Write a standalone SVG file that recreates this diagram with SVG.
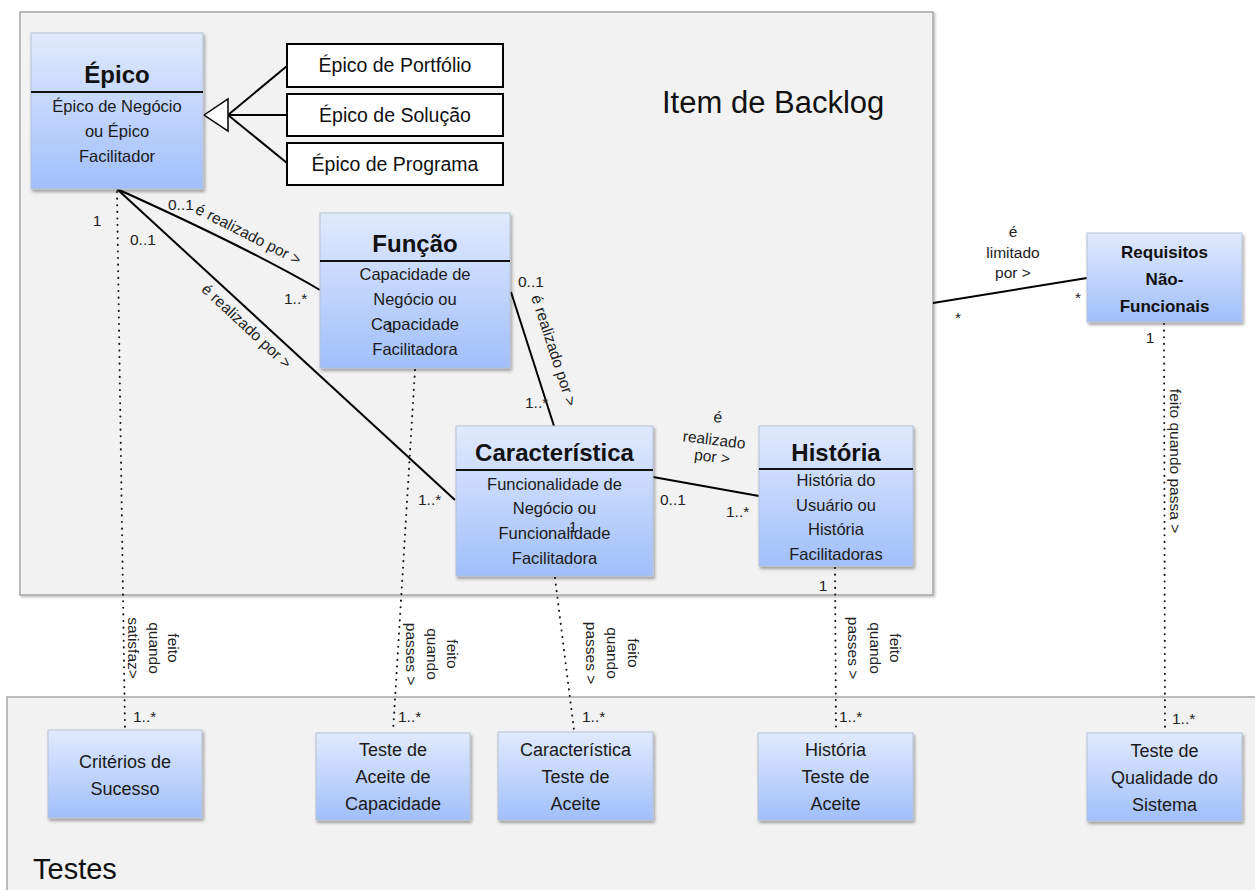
<svg xmlns="http://www.w3.org/2000/svg" width="1255" height="890" viewBox="0 0 1255 890">
  <defs>
    <linearGradient id="blueGrad" x1="0" y1="0" x2="0" y2="1">
      <stop offset="0" stop-color="#e1eafd"/>
      <stop offset="1" stop-color="#a1bffb"/>
    </linearGradient>
    <filter id="shadow" x="-10%" y="-10%" width="125%" height="130%">
      <feDropShadow dx="1.5" dy="2.5" stdDeviation="1.5" flood-color="#000" flood-opacity="0.35"/>
    </filter>
    <filter id="panelShadow" x="-5%" y="-5%" width="110%" height="110%">
      <feDropShadow dx="1.5" dy="1.5" stdDeviation="1" flood-color="#000" flood-opacity="0.25"/>
    </filter>
  </defs>
  <style>
    text { font-family: "Liberation Sans", Arial, sans-serif; fill: #111; }
    .panel { fill: #f2f2f2; stroke: #a6a6a6; stroke-width: 1.5; }
    .cls { fill: url(#blueGrad); stroke: #b3c1d6; stroke-width: 1; filter: url(#shadow); }
    .sub { fill: #fff; stroke: #000; stroke-width: 2; }
    .divider { stroke: #111; stroke-width: 2; }
    .title { font-size: 24px; font-weight: bold; text-anchor: middle; }
    .body { font-size: 16.5px; text-anchor: middle; fill: #1a1a1a; }
    .nfr { font-size: 17px; font-weight: bold; text-anchor: middle; }
    .subtxt { font-size: 19.5px; text-anchor: middle; }
    .test { font-size: 18px; text-anchor: middle; fill: #1a1a1a; }
    .lbl { font-size: 15.5px; fill: #222; }
    .mid { text-anchor: middle; }
    .vert { font-size: 15.5px; fill: #222; text-anchor: middle; dominant-baseline: central; }
    .panelTitle { font-size: 31px; fill: #111; }
    .assoc { stroke: #000; stroke-width: 2; fill: none; }
    .dotted { stroke: #111; stroke-width: 2; stroke-dasharray: 0.1 6.5; stroke-linecap: round; fill: none; }
  </style>

  <!-- container panels -->
  <g id="panel-backlog">
    <rect class="panel" x="20" y="12" width="913" height="583" filter="url(#panelShadow)"/>
    <text class="panelTitle" x="662" y="113">Item de Backlog</text>
  </g>
  <g id="panel-testes">
    <rect class="panel" x="7" y="697" width="1260" height="210"/>
    <text class="panelTitle" x="33" y="879" style="font-size:29px">Testes</text>
  </g>

  <!-- connectors -->
  <g id="connectors">
    <!-- generalization -->
    <line class="assoc" x1="228" y1="115" x2="287" y2="66"/>
    <line class="assoc" x1="228" y1="115" x2="287" y2="115"/>
    <line class="assoc" x1="228" y1="115" x2="287" y2="163"/>
    <polygon points="204,115 228,99 228,131" fill="#fff" stroke="#000" stroke-width="1.5"/>

    <!-- associations -->
    <path class="assoc" d="M117,189 Q246,247 320,290"/>
    <line class="assoc" x1="117" y1="189" x2="455" y2="500"/>
    <line class="assoc" x1="511" y1="292" x2="554" y2="426"/>
    <line class="assoc" x1="653" y1="477" x2="759" y2="496"/>
    <line class="assoc" x1="933" y1="303" x2="1087" y2="278"/>

    <!-- done-when dependencies -->
    <line class="dotted" x1="117" y1="192" x2="125" y2="730"/>
    <line class="dotted" x1="415" y1="370" x2="393" y2="732"/>
    <line class="dotted" x1="555" y1="578" x2="574" y2="730"/>
    <line class="dotted" x1="835" y1="568" x2="836" y2="732"/>
    <line class="dotted" x1="1164" y1="324" x2="1165" y2="732"/>

    <!-- association labels -->
    <text class="lbl mid" transform="translate(246,239) rotate(27)">é realizado por &gt;</text>
    <text class="lbl mid" transform="translate(243,330) rotate(43)">é realizado por &gt;</text>
    <text class="lbl mid" transform="translate(549,352) rotate(72)">é realizado por &gt;</text>
    <g transform="rotate(7 714 441)">
      <text class="lbl mid" x="715" y="422">é</text>
      <text class="lbl mid" x="714" y="445">realizado</text>
      <text class="lbl mid" x="714" y="462">por &gt;</text>
    </g>
    <text class="lbl mid" x="1013" y="237">é</text>
    <text class="lbl mid" x="1013" y="258">limitado</text>
    <text class="lbl mid" x="1013" y="278">por &gt;</text>

    <!-- multiplicities -->
    <text class="lbl mid" x="97" y="226">1</text>
    <text class="lbl" x="130" y="245">0..1</text>
    <text class="lbl" x="168" y="210">0..1</text>
    <text class="lbl" x="284" y="304">1..*</text>
    <text class="lbl" x="418" y="505">1..*</text>
    <text class="lbl" x="518" y="287">0..1</text>
    <text class="lbl" x="525" y="408">1..*</text>
    <text class="lbl" x="660" y="505">0..1</text>
    <text class="lbl" x="726" y="517">1..*</text>
    <text class="lbl mid" x="823" y="591">1</text>
    <text class="lbl mid" x="958" y="323">*</text>
    <text class="lbl mid" x="1078" y="303">*</text>
    <text class="lbl mid" x="1150" y="343">1</text>
    <text class="lbl" x="133" y="722">1..*</text>
    <text class="lbl" x="398" y="722">1..*</text>
    <text class="lbl" x="582" y="722">1..*</text>
    <text class="lbl" x="839" y="722">1..*</text>
    <text class="lbl" x="1172" y="724">1..*</text>

    <!-- vertical dependency labels -->
    <text class="vert" transform="translate(173,648) rotate(90)">feito</text>
    <text class="vert" transform="translate(154,648) rotate(90)">quando</text>
    <text class="vert" transform="translate(133,648) rotate(90)">satisfaz&gt;</text>

    <text class="vert" transform="translate(452,654) rotate(90)">feito</text>
    <text class="vert" transform="translate(432,654) rotate(90)">quando</text>
    <text class="vert" transform="translate(411,654) rotate(90)">passes &gt;</text>

    <text class="vert" transform="translate(633,653) rotate(90)">feito</text>
    <text class="vert" transform="translate(612,653) rotate(90)">quando</text>
    <text class="vert" transform="translate(591,653) rotate(90)">passes &gt;</text>

    <text class="vert" transform="translate(895,648) rotate(90)">feito</text>
    <text class="vert" transform="translate(875,648) rotate(90)">quando</text>
    <text class="vert" transform="translate(853,648) rotate(90)">passes &gt;</text>

    <text class="vert" transform="translate(1175,461) rotate(90)">feito quando passa &gt;</text>
  </g>

  <!-- backlog item classes -->
  <g id="epico">
    <rect class="cls" x="31" y="33" width="172" height="156"/>
    <line class="divider" x1="31" y1="92" x2="203" y2="92"/>
    <text class="title" x="117" y="83">Épico</text>
    <text class="body" x="117" y="112">Épico de Negócio</text>
    <text class="body" x="117" y="137">ou Épico</text>
    <text class="body" x="117" y="162">Facilitador</text>
  </g>

  <g id="epico-portfolio">
    <rect class="sub" x="287" y="44" width="216" height="43"/>
    <text class="subtxt" x="395" y="72">Épico de Portfólio</text>
  </g>
  <g id="epico-solucao">
    <rect class="sub" x="287" y="94" width="216" height="42"/>
    <text class="subtxt" x="395" y="122">Épico de Solução</text>
  </g>
  <g id="epico-programa">
    <rect class="sub" x="287" y="143" width="216" height="42"/>
    <text class="subtxt" x="395" y="171">Épico de Programa</text>
  </g>

  <g id="funcao">
    <rect class="cls" x="320" y="213" width="190" height="155"/>
    <line class="divider" x1="320" y1="261" x2="510" y2="261"/>
    <text class="title" x="415" y="252">Função</text>
    <text class="body" x="415" y="280">Capacidade de</text>
    <text class="body" x="415" y="305">Negócio ou</text>
    <text class="body" x="415" y="330">Capacidade</text>
    <text class="body" x="415" y="355">Facilitadora</text>
    <text class="lbl mid" x="390" y="332">1</text>
  </g>

  <g id="caracteristica">
    <rect class="cls" x="456" y="426" width="197" height="150"/>
    <line class="divider" x1="456" y1="470" x2="653" y2="470"/>
    <text class="title" x="554.5" y="461">Característica</text>
    <text class="body" x="554.5" y="490">Funcionalidade de</text>
    <text class="body" x="554.5" y="514">Negócio ou</text>
    <text class="body" x="554.5" y="539">Funcionalidade</text>
    <text class="body" x="554.5" y="564">Facilitadora</text>
    <text class="lbl mid" x="573" y="532">1</text>
  </g>

  <g id="historia">
    <rect class="cls" x="759" y="426" width="154" height="140"/>
    <line class="divider" x1="759" y1="469" x2="913" y2="469"/>
    <text class="title" x="836" y="461">História</text>
    <text class="body" x="836" y="486">História do</text>
    <text class="body" x="836" y="511">Usuário ou</text>
    <text class="body" x="836" y="535">História</text>
    <text class="body" x="836" y="560">Facilitadoras</text>
  </g>

  <g id="requisitos-nao-funcionais">
    <rect class="cls" x="1087" y="233" width="155" height="89"/>
    <text class="nfr" x="1164.5" y="258">Requisitos</text>
    <text class="nfr" x="1164.5" y="285">Não-</text>
    <text class="nfr" x="1164.5" y="312">Funcionais</text>
  </g>

  <!-- test artefacts -->
  <g id="criterios-sucesso">
    <rect class="cls" x="48" y="730" width="154" height="88"/>
    <text class="test" x="125" y="768">Critérios de</text>
    <text class="test" x="125" y="795">Sucesso</text>
  </g>
  <g id="teste-aceite-capacidade">
    <rect class="cls" x="316" y="733" width="154" height="87"/>
    <text class="test" x="393" y="756">Teste de</text>
    <text class="test" x="393" y="783">Aceite de</text>
    <text class="test" x="393" y="810">Capacidade</text>
  </g>
  <g id="caracteristica-teste-aceite">
    <rect class="cls" x="498" y="732" width="155" height="88"/>
    <text class="test" x="575.5" y="756">Característica</text>
    <text class="test" x="575.5" y="783">Teste de</text>
    <text class="test" x="575.5" y="810">Aceite</text>
  </g>
  <g id="historia-teste-aceite">
    <rect class="cls" x="758" y="733" width="155" height="87"/>
    <text class="test" x="835.5" y="756">História</text>
    <text class="test" x="835.5" y="783">Teste de</text>
    <text class="test" x="835.5" y="810">Aceite</text>
  </g>
  <g id="teste-qualidade-sistema">
    <rect class="cls" x="1087" y="733" width="155" height="88"/>
    <text class="test" x="1164.5" y="757">Teste de</text>
    <text class="test" x="1164.5" y="784">Qualidade do</text>
    <text class="test" x="1164.5" y="811">Sistema</text>
  </g>
</svg>
